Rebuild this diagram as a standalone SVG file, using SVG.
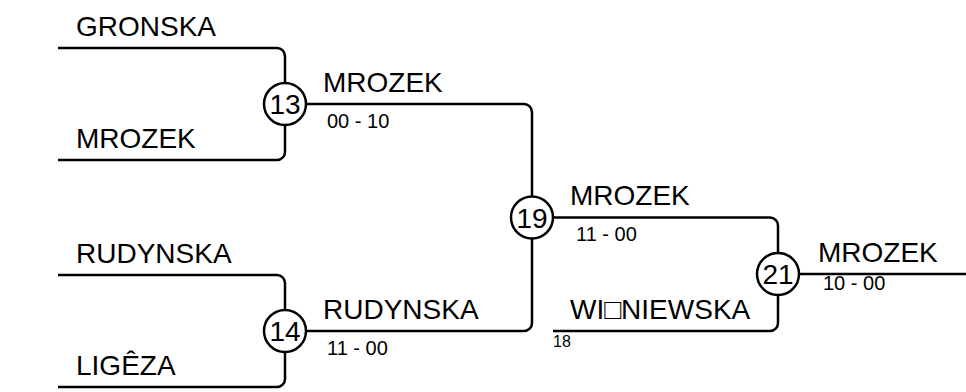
<svg xmlns="http://www.w3.org/2000/svg" width="966" height="392" viewBox="0 0 966 392">
<style>
.ln{fill:none;stroke:#000;stroke-width:2.5;stroke-linejoin:round}
.c{fill:#fff;stroke:#000;stroke-width:2.5}
.n{font-family:"Liberation Sans",Arial,sans-serif;font-size:28px;fill:#000}
.num{font-family:"Liberation Sans",Arial,sans-serif;font-size:28px;fill:#000;text-anchor:middle}
.s{font-family:"Liberation Sans",Arial,sans-serif;font-size:20px;fill:#000}
.t{font-family:"Liberation Sans",Arial,sans-serif;font-size:16px;fill:#000}
</style>
<rect width="966" height="392" fill="#fff"/>
<g id="connectors">
<path class="ln" d="M58 48 H277 A8 8 0 0 1 285 56 V152 A8 8 0 0 1 277 160 H58"/>
<path class="ln" d="M58 275 H277 A8 8 0 0 1 285 283 V379 A8 8 0 0 1 277 387 H58"/>
<path class="ln" d="M285 104 H524 A8 8 0 0 1 532 112 V323 A8 8 0 0 1 524 331 H285"/>
<path class="ln" d="M532 217.5 H770 A8 8 0 0 1 778 225.5 V323 A8 8 0 0 1 770 331 H553"/>
<path class="ln" d="M778 274 H966"/>
</g>
<g id="labels">
<text class="n" x="76" y="36">GRONSKA</text>
<text class="n" x="76" y="148">MROZEK</text>
<text class="n" x="76" y="263">RUDYNSKA</text>
<text class="n" x="76" y="375">LIGÊZA</text>
<text class="n" x="323" y="92">MROZEK</text>
<text class="s" x="327" y="128">00 - 10</text>
<text class="n" x="323" y="319">RUDYNSKA</text>
<text class="s" x="327" y="355">11 - 00</text>
<text class="n" x="570" y="205">MROZEK</text>
<text class="s" x="576" y="241">11 - 00</text>
<text class="n" x="570" y="319">WI□NIEWSKA</text>
<text class="t" x="553" y="347">18</text>
<text class="n" x="818" y="262">MROZEK</text>
<text class="s" x="823" y="290">10 - 00</text>
</g>
<g id="match13"><circle class="c" cx="285" cy="104" r="21"/><text class="num" x="285" y="114">13</text></g>
<g id="match14"><circle class="c" cx="285" cy="331" r="21"/><text class="num" x="285" y="341">14</text></g>
<g id="match19"><circle class="c" cx="532" cy="217.5" r="21"/><text class="num" x="532" y="227.5">19</text></g>
<g id="match21"><circle class="c" cx="778" cy="274" r="21"/><text class="num" x="778" y="284">21</text></g>
</svg>
